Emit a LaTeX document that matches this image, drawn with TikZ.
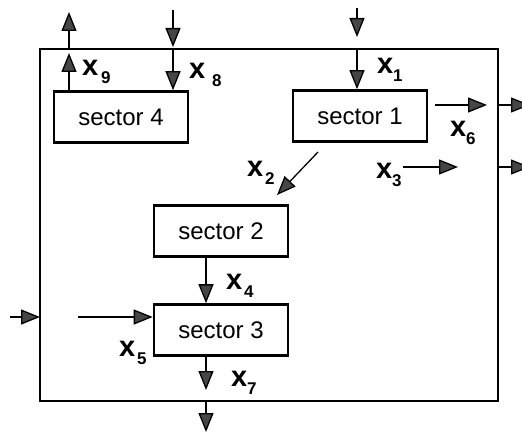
\documentclass[tikz,border=0pt]{standalone}
\usepackage{fontspec}
\setmainfont{Liberation Sans}
\usetikzlibrary{positioning,calc}
\usetikzlibrary{arrows.meta}
\definecolor{HeadGray}{RGB}{70,70,70}
\tikzset{
	sect/.style={draw=black,line width=2.6pt,minimum width=134pt,minimum height=51pt,
		inner sep=0pt,font=\fontsize{24}{26}\selectfont},
	flow/.style={draw=black,line width=1.3pt,
		-{Triangle[length=19pt,width=15pt,fill=HeadGray]}},
	var/.style={anchor=base west,inner sep=0pt,outer sep=0pt},
}
\newcommand{\xv}[2][0pt]{{\fontsize{29}{29}\selectfont\bfseries x\kern#1\raisebox{-8pt}{\fontsize{17}{17}\selectfont #2}}}

\begin{document}
\begin{tikzpicture}[x=1pt,y=-1pt]
	\useasboundingbox (0,0) rectangle (522,436);
	\clip (0,0) rectangle (522,436);
	% outer frame
	\draw[line width=1.8pt] (40,49) rectangle (498,401);
	\coordinate (topA) at (69,49);
	\coordinate (topB) at (173,49);
	\coordinate (topC) at (357,49);
	\coordinate (rgtA) at (498,105);
	\coordinate (rgtB) at (498,167);
	\coordinate (lft) at (40,317);
	\coordinate (bot) at (206,401);
	% sectors
	\node[sect] (s4) at (121,117) {sector 4};
	\node[sect] (s1) at (360,116) {sector 1};
	\node[sect] (s2) at (221,231) {sector 2};
	\node[sect] (s3) at (221,330) {sector 3};
	% flows
	\draw[flow] (s4.north -| topA) -- (69,53);
	\draw[flow] (topA) -- (69,12);
	\draw[flow] (173,10) -- (173,47);
	\draw[flow] (topB) -- (s4.north -| topB);
	\draw[flow] (357,8) -- (357,37);
	\draw[flow] (topC) -- (s1.north -| topC);
	\draw[flow] (435,105) -- (487,105);
	\draw[flow] (rgtA) -- (530,105);
	\draw[flow] (403,167) -- (458,167);
	\draw[flow] (rgtB) -- (530,167);
	\draw[flow] (318,152) -- (277,195);
	\draw[flow] (s2.south -| 206,0) -- (s3.north -| 206,0);
	\draw[flow] (10,317) -- (lft);
	\draw[flow] (78,317) -- (s3.west |- 0,317);
	\draw[flow] (s3.south -| 206,0) -- (206,390);
	\draw[flow] (bot) -- (206,432);
	% labels
	\node[var] (l9) at (82,76) {\xv[3pt]{9}};
	\node[var] (l8) at (189,78) {\xv[7pt]{8}};
	\node[var] (l1) at (377,74) {\xv{1}};
	\node[var] (l6) at (450,136) {\xv{6}};
	\node[var] (l3) at (376,178) {\xv{3}};
	\node[var] (l2) at (247,176) {\xv[2pt]{2}};
	\node[var] (l4) at (226,289) {\xv[2pt]{4}};
	\node[var] (l5) at (119,356) {\xv[2pt]{5}};
	\node[var] (l7) at (231,386) {\xv{7}};
\end{tikzpicture}
\end{document}
